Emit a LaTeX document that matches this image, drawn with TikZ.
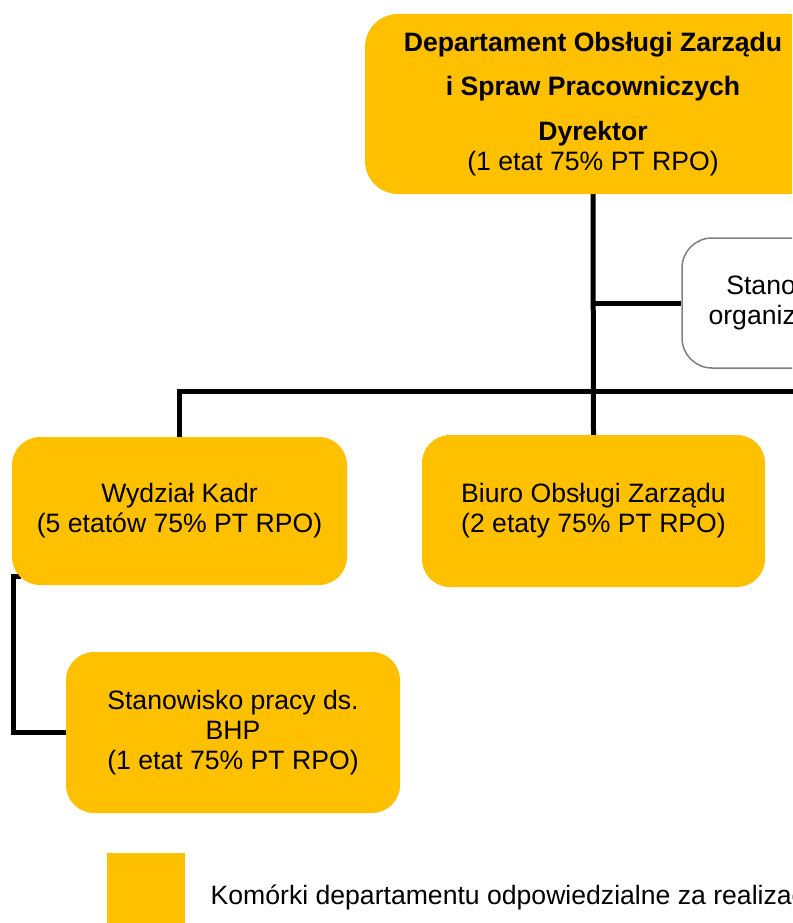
\documentclass[tikz,border=0pt]{standalone}
\usepackage{fontspec}
\setmainfont{Liberation Sans}
\usetikzlibrary{calc,backgrounds}
\definecolor{unitfill}{HTML}{FFC000}
\definecolor{staffline}{HTML}{7F7F7F}
\tikzset{
    unit/.style={rounded corners=28pt, fill=unitfill, align=center, inner sep=0pt},
    staffbox/.style={rounded corners=30pt, draw=staffline, line width=1.5pt,
        fill=white, align=center, inner sep=0pt},
    link/.style={line width=5pt}
}

\begin{document}
\begin{tikzpicture}[x=1pt, y=1pt, font=\fontsize{26.6}{30}\selectfont]
            \useasboundingbox (0,0) rectangle (792,-923);
            \clip (0,0) rectangle (792,-923);

            \node [unit, rounded corners=33pt, minimum width=456pt, minimum height=180pt]
                (dept) at (593,-104) {\textbf{Departament Obsługi Zarządu}\\[14pt]
                \textbf{i Spraw Pracowniczych}\\[15pt]\textbf{Dyrektor}\\(1 etat 75\% PT RPO)};
            \node [staffbox, minimum width=340pt, minimum height=130pt]
                (staff) at (852,-303) {Stanowisko pracy ds.\\organizacyjno-prawnych};
            \node [unit, minimum width=335pt, minimum height=148pt]
                (kadr) at (179.5,-511) {Wydział Kadr\\(5 etatów 75\% PT RPO)};
            \node [unit, minimum width=343pt, minimum height=152pt]
                (biuro) at (593.5,-511) {Biuro Obsługi Zarządu\\(2 etaty 75\% PT RPO)};
            \node [unit, minimum width=334pt, minimum height=161pt]
                (bhp) at (233,-732.5) {Stanowisko pracy ds.\\BHP\\(1 etat 75\% PT RPO)};
            \coordinate (busend) at (800,-391);

            \begin{scope}[on background layer]
                \draw [link] (dept.south) -- (biuro.north);
                \draw [link] (dept.south |- staff.west) -- (staff.west);
                \draw [link] (kadr.north) |- (busend);
                \draw [link] ($(kadr.south west)+(9,9)$) -- ++(-7,0) |- (bhp.west);
            \end{scope}

            % legend
            \node [fill=unitfill, inner sep=0pt, minimum size=78pt]
                (key) at (146,-892) {};
            \node [anchor=base west, inner sep=0pt]
                (keytext) at (210.5,-904) {Komórki departamentu odpowiedzialne za realizację projektu};
\end{tikzpicture}
\end{document}
